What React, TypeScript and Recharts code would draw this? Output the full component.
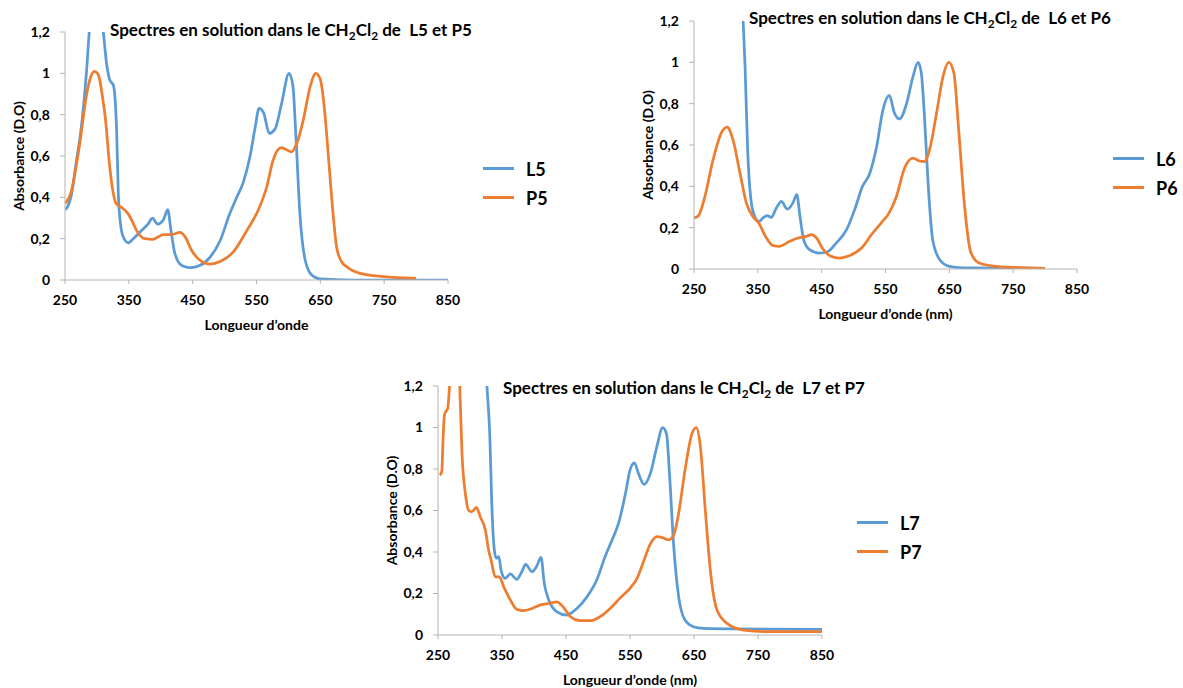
import { LineChart, Line, XAxis, YAxis, Legend } from 'recharts';

const BLUE = '#5B9BD5';
const ORANGE = '#ED7D31';
const AXIS = '#B4B4B4';
const FONT = 'Lato, "Open Sans", sans-serif';

const xTicks = [250, 350, 450, 550, 650, 750, 850];
const yTicks = [0, 0.2, 0.4, 0.6, 0.8, 1, 1.2];

// [longueur d'onde (nm), absorbance]
const l5 = [
  [250, 0.34], [255, 0.36], [260, 0.41], [268, 0.58], [274, 0.7], [279, 0.84], [284, 1.02], [288, 1.2],
  [294, 1.32], [300, 1.36], [306, 1.3], [310, 1.2], [315, 1.05], [320, 0.97], [326, 0.94], [329, 0.85],
  [331, 0.71], [333.5, 0.42], [337, 0.27], [341, 0.21], [349, 0.18], [357, 0.2], [370, 0.24], [380, 0.27],
  [387, 0.3], [395, 0.27], [404, 0.29], [411, 0.34], [416, 0.24], [422, 0.13], [433, 0.07], [446, 0.06],
  [461, 0.07], [477, 0.11], [493, 0.19], [508, 0.32], [519, 0.4], [529, 0.47], [540, 0.6], [548, 0.74],
  [554, 0.83], [561, 0.81], [570, 0.71], [579, 0.73], [589, 0.85], [601, 1.0], [607, 0.94], [612, 0.68],
  [618, 0.32], [626, 0.1], [636, 0.025], [649, 0.005], [700, 0], [800, 0], [850, 0],
];
const p5 = [
  [250, 0.37], [260, 0.43], [268, 0.56], [274, 0.68], [284, 0.9], [290, 0.98], [296, 1.01], [301, 1.0],
  [305, 0.96], [309, 0.88], [313, 0.79], [320, 0.55], [325, 0.43], [330, 0.37], [339, 0.35], [349, 0.32],
  [356, 0.28], [362, 0.24], [375, 0.2], [388, 0.197], [404, 0.22], [417, 0.22], [430, 0.23], [438, 0.21],
  [448, 0.145], [461, 0.097], [477, 0.077], [493, 0.089], [514, 0.137], [535, 0.24], [553, 0.34], [566, 0.45],
  [576, 0.58], [589, 0.64], [597, 0.63], [605, 0.62], [613, 0.66], [623, 0.77], [634, 0.935], [643, 1.0],
  [650, 0.97], [655, 0.87], [659, 0.74], [668, 0.39], [675.5, 0.16], [683, 0.09], [691, 0.065], [712, 0.032],
  [749, 0.016], [800, 0.008],
];
const l6 = [
  [318, 1.8], [324, 1.45], [327, 1.2], [330, 0.98], [334, 0.58], [339, 0.34], [345, 0.255], [352, 0.23],
  [358, 0.247], [365, 0.258], [371, 0.25], [379, 0.295], [387, 0.327], [396, 0.29], [405, 0.32], [411, 0.36],
  [416, 0.255], [422, 0.14], [431, 0.094], [447, 0.077], [460, 0.085], [473, 0.126], [489, 0.19], [502, 0.29],
  [514, 0.4], [525, 0.46], [536, 0.59], [546, 0.77], [556, 0.84], [564, 0.755], [572, 0.726], [583, 0.8],
  [593, 0.93], [601, 1.0], [606, 0.95], [611, 0.74], [617, 0.4], [624, 0.14], [635, 0.045], [650, 0.013],
  [671, 0.006], [800, 0.003],
];
const p6 = [
  [250, 0.247], [257, 0.258], [267, 0.35], [280, 0.53], [293, 0.66], [302, 0.687], [311, 0.626], [322, 0.465],
  [332, 0.32], [342, 0.255], [352, 0.22], [362, 0.158], [374, 0.113], [384, 0.11], [400, 0.134], [413, 0.15],
  [426, 0.158], [434, 0.166], [442, 0.15], [452, 0.097], [465, 0.061], [478, 0.053], [494, 0.065], [512, 0.1],
  [528, 0.166], [544, 0.226], [554, 0.263], [567, 0.35], [580, 0.49], [593, 0.537], [602, 0.524], [611, 0.52],
  [620, 0.59], [630, 0.755], [640, 0.93], [649, 1.0], [657, 0.95], [665, 0.66], [674, 0.3], [684, 0.077],
  [697, 0.029], [723, 0.013], [750, 0.008], [800, 0.003],
];
const l7 = [
  [320, 1.6], [326.5, 1.2], [331, 0.956], [334, 0.635], [338, 0.41], [341, 0.37], [345, 0.378], [348.5, 0.313],
  [355, 0.273], [363, 0.294], [373, 0.268], [381, 0.305], [387, 0.34], [397, 0.305], [404, 0.33], [411, 0.374],
  [416, 0.25], [423, 0.169], [436, 0.112], [451, 0.096], [467, 0.128], [483, 0.185], [498, 0.265], [511, 0.377],
  [522, 0.458], [532, 0.538], [543, 0.683], [550, 0.795], [557, 0.83], [563, 0.78], [572, 0.726], [582, 0.78],
  [592, 0.908], [601, 1.0], [607, 0.97], [612, 0.763], [618, 0.442], [626, 0.185], [636, 0.072], [649, 0.04],
  [665, 0.032], [717, 0.029], [850, 0.027],
];
const p7 = [
  [253, 0.77], [256, 0.79], [258, 0.95], [260, 1.06], [263, 1.08], [265, 1.09], [268, 1.2], [272, 1.5],
  [278, 1.6], [282, 1.4], [284, 1.2], [287.5, 0.875], [292.7, 0.683], [298, 0.6], [303, 0.594], [310, 0.615],
  [316, 0.57], [324, 0.506], [329, 0.41], [333, 0.36], [339.6, 0.28], [346, 0.28], [352.6, 0.233], [363, 0.169],
  [373, 0.124], [384, 0.117], [397, 0.128], [410, 0.145], [425, 0.153], [436, 0.16], [445, 0.137], [457, 0.088],
  [472, 0.069], [488, 0.069], [503, 0.088], [519, 0.128], [535, 0.18], [550, 0.225], [561, 0.273], [571, 0.353],
  [582, 0.44], [592, 0.474], [601, 0.469], [610, 0.458], [618, 0.48], [626, 0.586], [636, 0.795], [647, 0.972],
  [653.6, 1.0], [660, 0.908], [667.7, 0.6], [675.5, 0.313], [686, 0.12], [701.6, 0.056], [727.6, 0.024],
  [769, 0.016], [850, 0.016],
];

const toPts = (arr: number[][]) => arr.map(([nm, a]) => ({ nm, a }));
const fmtY = (v: number) => String(v).replace('.', ',');

type Box = { x: number; y: number; w: number; h: number };
type Plot = { l: number; t: number; r: number; b: number };

const Y_AXIS_W = 40;
const X_AXIS_H = 30;

function Spectrum(props: {
  box: Box;
  plot: Plot;
  title: [string, string];
  titleAt: [number, number];
  xLabel: string;
  names: [string, string];
  blue: number[][];
  orange: number[][];
  legendAt: [number, number];
}) {
  const { box, plot, title, titleAt, xLabel, names, blue, orange, legendAt } = props;
  const margin = {
    top: plot.t - box.y,
    left: plot.l - box.x - Y_AXIS_W,
    right: box.x + box.w - plot.r,
    bottom: box.y + box.h - plot.b - X_AXIS_H,
  };
  const tickStyle = { fontFamily: FONT, fontWeight: 700, fontSize: 14, fill: '#000' };
  const ylx = plot.l - box.x - 47;
  const yly = (plot.t + plot.b) / 2 - box.y;
  const xlx = (plot.l + plot.r) / 2 - box.x;
  const xly = plot.b + 44 - box.y;
  const subStyle = { fontSize: '0.7em', verticalAlign: '-0.3em', lineHeight: 0 };

  const renderLegend = (p: any) => (
    <div>
      {(p.payload || []).map((it: any) => (
        <div key={it.value} style={{ display: 'flex', alignItems: 'center', height: 29 }}>
          <span style={{ display: 'inline-block', width: 31, height: 3, background: it.color, marginRight: 12 }} />
          <span style={{ fontFamily: FONT, fontWeight: 700, fontSize: 18, color: '#000' }}>{it.value}</span>
        </div>
      ))}
    </div>
  );

  return (
    <div style={{ position: 'absolute', left: box.x, top: box.y, width: box.w, height: box.h }}>
      <LineChart width={box.w} height={box.h} margin={margin}>
        <XAxis
          dataKey="nm"
          type="number"
          domain={[250, 850]}
          ticks={xTicks}
          allowDataOverflow
          height={X_AXIS_H}
          stroke={AXIS}
          tickSize={4}
          tickMargin={11}
          tick={tickStyle}
          label={{
            content: () => (
              <text x={xlx} y={xly} textAnchor="middle" dominantBaseline="central"
                style={{ fontFamily: FONT, fontWeight: 700, fontSize: 14 }} fill="#000">
                {xLabel}
              </text>
            ),
          }}
        />
        <YAxis
          type="number"
          domain={[0, 1.2]}
          ticks={yTicks}
          allowDataOverflow
          width={Y_AXIS_W}
          stroke={AXIS}
          tickSize={5}
          tickMargin={10}
          tick={tickStyle}
          tickFormatter={fmtY}
          label={{
            content: () => (
              <text x={ylx} y={yly} transform={`rotate(-90 ${ylx} ${yly})`} textAnchor="middle"
                dominantBaseline="central" style={{ fontFamily: FONT, fontWeight: 700, fontSize: 14 }} fill="#000">
                Absorbance (D.O)
              </text>
            ),
          }}
        />
        <Legend
          layout="vertical"
          align="center"
          verticalAlign="middle"
          wrapperStyle={{ left: legendAt[0] - box.x, top: legendAt[1] - box.y, width: 90 }}
          content={renderLegend}
        />
        <Line data={toPts(blue)} dataKey="a" name={names[0]} type="monotone" stroke={BLUE}
          strokeWidth={2.75} dot={false} isAnimationActive={false} />
        <Line data={toPts(orange)} dataKey="a" name={names[1]} type="monotone" stroke={ORANGE}
          strokeWidth={2.75} dot={false} isAnimationActive={false} />
      </LineChart>
      <div
        style={{
          position: 'absolute',
          left: titleAt[0] - box.x,
          top: titleAt[1] - box.y - 11,
          height: 22,
          lineHeight: '22px',
          whiteSpace: 'pre',
          fontFamily: FONT,
          fontWeight: 700,
          fontSize: 17,
          color: '#000',
        }}
      >
        {title[0]}CH<sub style={subStyle}>2</sub>Cl<sub style={subStyle}>2</sub>{title[1]}
      </div>
    </div>
  );
}

export default function App() {
  return (
    <div style={{ position: 'absolute', left: 0, top: 0, width: 1183, height: 688, background: '#fff' }}>
      <Spectrum
        box={{ x: 0, y: 0, w: 560, h: 340 }}
        plot={{ l: 65, t: 32, r: 448, b: 280 }}
        title={['Spectres en solution dans le ', ' de  L5 et P5']}
        titleAt={[110, 30]}
        xLabel="Longueur d’onde"
        names={['L5', 'P5']}
        blue={l5}
        orange={p5}
        legendAt={[483, 154]}
      />
      <Spectrum
        box={{ x: 630, y: 0, w: 553, h: 330 }}
        plot={{ l: 694, t: 21, r: 1077, b: 269 }}
        title={['Spectres en solution dans le ', ' de  L6 et P6']}
        titleAt={[749, 18]}
        xLabel="Longueur d’onde (nm)"
        names={['L6', 'P6']}
        blue={l6}
        orange={p6}
        legendAt={[1113, 144]}
      />
      <Spectrum
        box={{ x: 370, y: 370, w: 570, h: 318 }}
        plot={{ l: 438, t: 386, r: 822, b: 635 }}
        title={['Spectres en solution dans le ', ' de  L7 et P7']}
        titleAt={[503, 388]}
        xLabel="Longueur d’onde (nm)"
        names={['L7', 'P7']}
        blue={l7}
        orange={p7}
        legendAt={[857, 508]}
      />
    </div>
  );
}
